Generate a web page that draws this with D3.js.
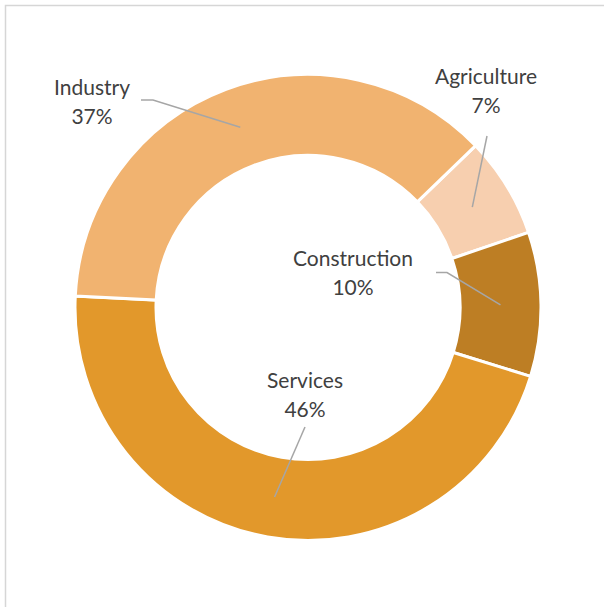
<!DOCTYPE html>
<html>
<head>
<meta charset="utf-8">
<script src="https://cdn.jsdelivr.net/npm/d3@7"></script>
<style>
  html, body { margin: 0; padding: 0; background: #fff; }
  svg { display: block; }
  text { font-family: Lato, "Open Sans", sans-serif; fill: #404040; }
</style>
</head>
<body>
<script>
// Share of output by sector (%)
const sectors = ["Agriculture", "Construction", "Services", "Industry"];
const shares = [7, 10, 46, 37];
const colors = ["#F7CFAF", "#BD7E24", "#E2982B", "#F1B370"];

const W = 604, H = 607;
const cx = 308, cy = 307.5;
const outerR = 233, innerR = 152;
const startDeg = 46;

// Label anchors (centre x, first baseline y) and where the leader leaves the label
const labelLayout = {
  Industry:     { x: 92,  y: 95,  lead: [[141, 100], [153, 100]] },
  Agriculture:  { x: 486, y: 84,  lead: [[487, 136]] },
  Construction: { x: 353, y: 266, lead: [[436, 272.5], [447, 272.5]] },
  Services:     { x: 305, y: 388, lead: [[305, 427]] }
};

const svg = d3.select("body").append("svg")
  .attr("width", W).attr("height", H);

// chart area frame
svg.append("rect")
  .attr("x", 5.5).attr("y", 5.5)
  .attr("width", W + 10).attr("height", H + 10)
  .attr("fill", "none")
  .attr("stroke", "#D6D6D6")
  .attr("stroke-width", 1.5);

const data = sectors.map((s, i) => ({ name: s, value: shares[i], color: colors[i] }));

const pie = d3.pie()
  .value(d => d.value)
  .sort(null)
  .startAngle(startDeg * Math.PI / 180)
  .endAngle(startDeg * Math.PI / 180 + 2 * Math.PI);

const arc = d3.arc().innerRadius(innerR).outerRadius(outerR);
const arcs = pie(data);

const g = svg.append("g").attr("transform", `translate(${cx},${cy})`);

g.selectAll("path.slice")
  .data(arcs)
  .join("path")
  .attr("class", "slice")
  .attr("d", arc)
  .attr("fill", d => d.data.color)
  .attr("stroke", "#fff")
  .attr("stroke-width", 3)
  .attr("stroke-linejoin", "miter");

// leader lines from label to slice centroid
const line = d3.line();
arcs.forEach(a => {
  const L = labelLayout[a.data.name];
  const c = arc.centroid(a);
  const pts = L.lead.concat([[c[0] + cx, c[1] + cy]]);
  svg.append("path")
    .attr("d", line(pts))
    .attr("fill", "none")
    .attr("stroke", "#A6A6A6")
    .attr("stroke-width", 1.5);
});

// labels: name and percentage
const fontSize = 21;
const lineGap = 29;
const fmt = d3.format(".0f");
arcs.forEach(a => {
  const L = labelLayout[a.data.name];
  const t = svg.append("text")
    .attr("text-anchor", "middle")
    .attr("font-size", fontSize);
  t.append("tspan").attr("x", L.x).attr("y", L.y).text(a.data.name);
  t.append("tspan").attr("x", L.x).attr("y", L.y + lineGap).text(fmt(a.data.value) + "%");
});
</script>
</body>
</html>
